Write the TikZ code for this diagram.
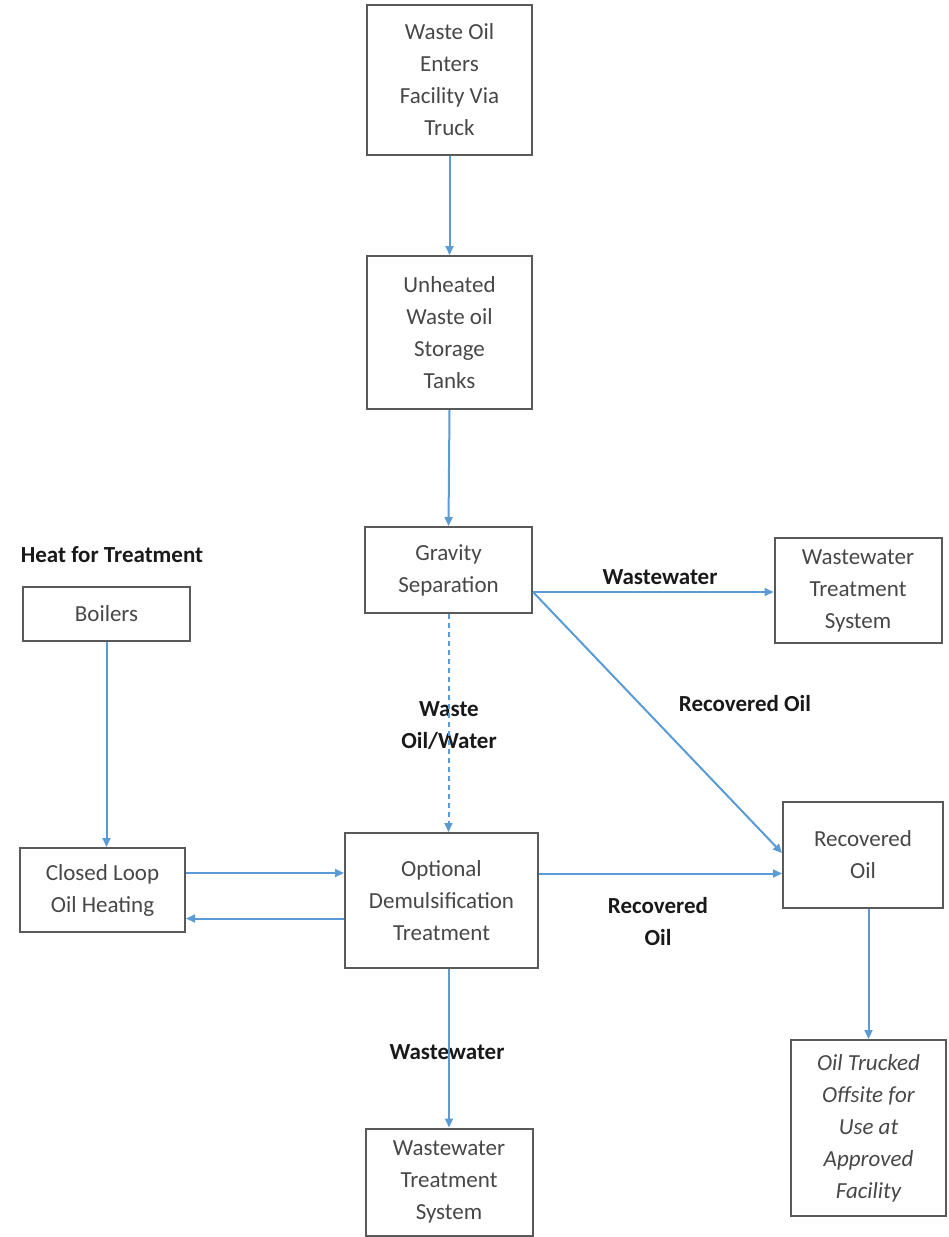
\documentclass[tikz,border=0pt]{standalone}
\usepackage{fontspec}
\setmainfont{Carlito}
\usetikzlibrary{arrows.meta}
\definecolor{flowblue}{HTML}{5B9BD5}
\definecolor{boxline}{HTML}{595959}
\begin{document}
\begin{tikzpicture}[x=1pt,y=-1pt,
  box/.style={draw=boxline,line width=2pt,rectangle,align=center,inner sep=2pt,
    font=\fontsize{23}{32}\selectfont,text=black!72},
  flow/.style={draw=flowblue,line width=2pt,-{Triangle[length=9pt,width=8pt]}},
  lbl/.style={font=\fontsize{23}{32}\selectfont\bfseries,align=center,text=black!90}]
\useasboundingbox (0,0) rectangle (948,1237);
\node[box,minimum width=165,minimum height=150] (b1) at (449.5,80) {Waste Oil\\Enters\\Facility Via\\Truck};
\node[box,minimum width=165,minimum height=153] (b2) at (449.5,332.5) {Unheated\\Waste oil\\Storage\\Tanks};
\node[box,minimum width=167,minimum height=86] (b3) at (448.5,570) {Gravity\\Separation};
\node[box,minimum width=167,minimum height=105] (wwt1) at (858,590.5) {Wastewater\\Treatment\\System};
\node[box,minimum width=160,minimum height=106] (ro) at (863,855) {Recovered\\Oil};
\node[box,minimum width=167,minimum height=54] (boil) at (106.5,613.5) {Boilers};
\node[box,minimum width=165,minimum height=84] (cl) at (102.5,890) {Closed Loop\\Oil Heating};
\node[box,minimum width=193,minimum height=135] (opt) at (441.5,900.5) {Optional\\Demulsification\\Treatment};
\node[box,minimum width=167,minimum height=107] (wwt2) at (449,1182) {Wastewater\\Treatment\\System};
\node[box,minimum width=155,minimum height=176,font=\fontsize{23}{32}\selectfont\itshape] (truck) at (868.5,1128) {Oil Trucked\\Offsite for\\Use at\\Approved\\Facility};

\node[lbl] (lheat) at (112,555) {Heat for Treatment};
\node[lbl] (lww1) at (660,577) {Wastewater};
\node[lbl] (lro1) at (745,704) {Recovered Oil};
\node[lbl] (lwow) at (449,726) {Waste\\Oil/Water};
\node[lbl] (lro2) at (658,921) {Recovered\\Oil};
\node[lbl] (lww2) at (447,1052) {Wastewater};

\draw[flow] (b1.south) -- (b2.north);
\draw[flow] (b2.south) -- (b3.north);
\coordinate (g1) at ([yshift=-22pt]b3.east);
\draw[flow] (g1) -- (g1 -| wwt1.west);
\draw[flow] (g1) -- ([yshift=2pt]ro.west);
\draw[flow,dash pattern=on 5pt off 4pt] (b3.south) -- (b3.south |- opt.north);
\coordinate (o1) at ([yshift=27pt]opt.east);
\draw[flow] (o1) -- (o1 -| ro.west);
\coordinate (c1) at ([yshift=17pt]cl.east);
\draw[flow] (c1) -- (c1 -| opt.west);
\coordinate (c2) at ([yshift=-18pt]opt.west);
\draw[flow] (c2) -- (c2 -| cl.east);
\draw[flow] (boil.south) -- (boil.south |- cl.north);
\draw[flow] (wwt2.north |- opt.south) -- (wwt2.north);
\draw[flow] (truck.north |- ro.south) -- (truck.north);
\end{tikzpicture}
\end{document}
